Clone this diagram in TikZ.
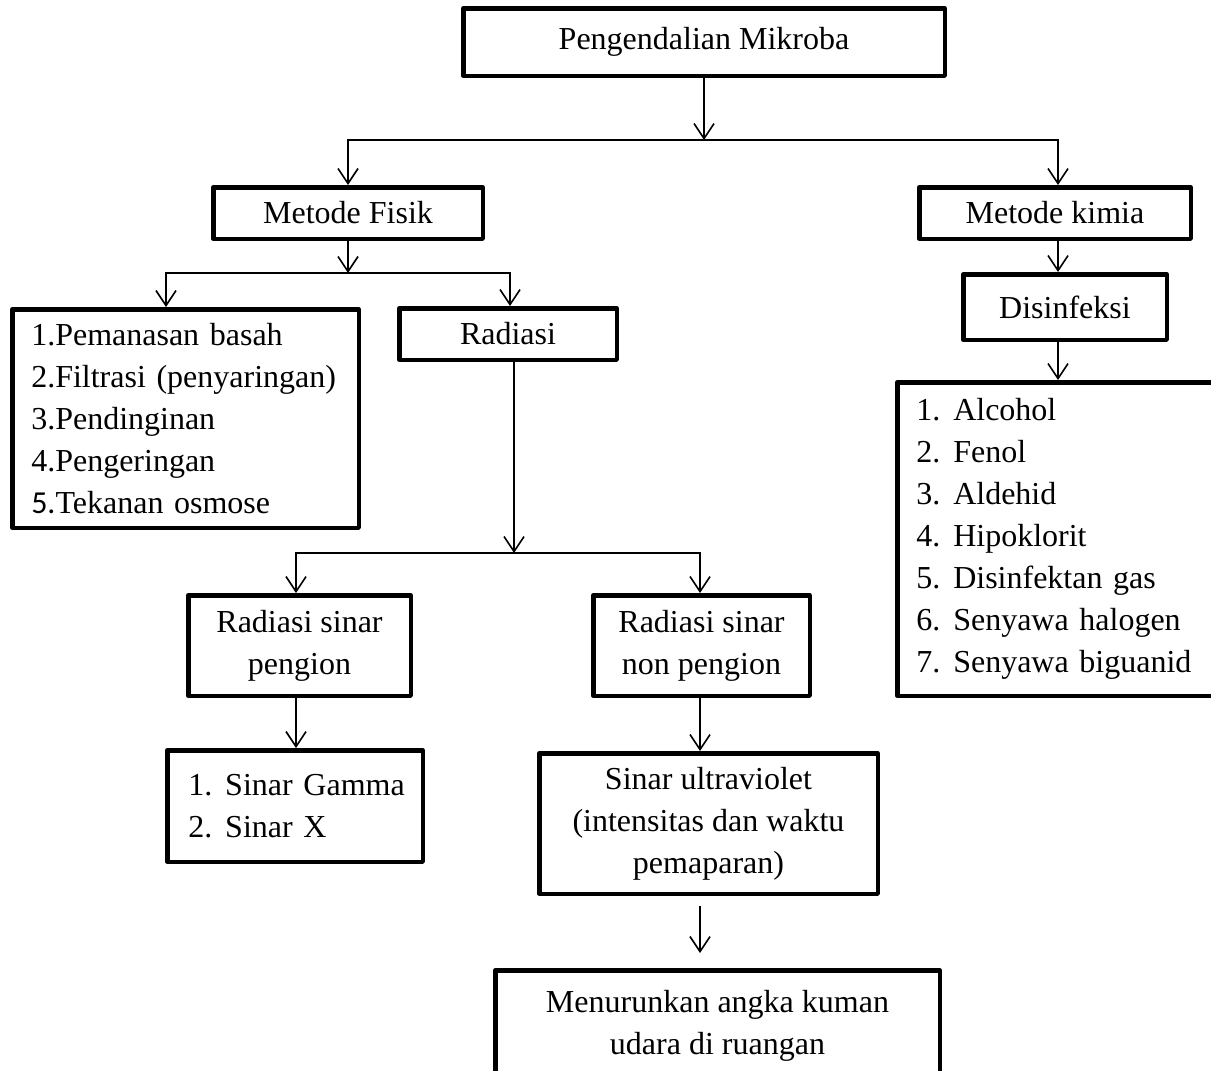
\documentclass[tikz,border=0pt]{standalone}
\usepackage{fontspec}
\setmainfont{Liberation Serif}
\setsansfont{Carlito}
\usepackage{tikz}
\usetikzlibrary{arrows.meta,calc,positioning}
\definecolor{hitam}{HTML}{000000}
\newcommand{\nomor}[1]{\makebox[37pt][l]{#1}}
\tikzset{
  kotak/.style={rectangle,draw=hitam,fill=white,line width=4.5pt,line join=round,inner sep=0pt,align=center,font=\fontsize{32}{42}\selectfont},
  daftar/.style={kotak,align=left,inner xsep=19pt},
  penghubung/.style={draw=hitam,line width=1.6pt},
  panah/.style={penghubung,-{Straight Barb[length=15pt,width=20pt]}},
}

\begin{document}
\begin{tikzpicture}[x=1pt,y=-1pt]
\useasboundingbox (0,0) rectangle (1211,1071);
\clip (0,0) rectangle (1211,1071);
% kotak-kotak
\node[kotak,minimum width=481.5pt,minimum height=67.5pt] (atas) at (704,42) {Pengendalian Mikroba};
\node[kotak,minimum width=269.5pt,minimum height=51.5pt] (fisik) at (348,213) {Metode Fisik};
\node[kotak,minimum width=271.5pt,minimum height=51.5pt] (kimia) at (1055,213) {Metode kimia};
\node[kotak,minimum width=203.5pt,minimum height=65.5pt] (disinfeksi) at (1065,307) {Disinfeksi};
\node[daftar,minimum width=346.5pt,minimum height=218.5pt,text width=308.5pt] (daftarfisik) at (185.5,418.5)
  {1.Pemanasan basah\\2.Filtrasi (penyaringan)\\3.Pendinginan\\4.Pengeringan\\{\sffamily 5.}Tekanan osmose};
\node[kotak,minimum width=217.5pt,minimum height=51.5pt] (radiasi) at (508,334) {Radiasi};
\node[daftar,minimum width=345.5pt,minimum height=313.5pt,text width=307.5pt] (daftarkimia) at (1070,539)
  {\nomor{1.}Alcohol\\\nomor{2.}Fenol\\\nomor{3.}Aldehid\\\nomor{4.}Hipoklorit\\\nomor{5.}Disinfektan gas\\\nomor{6.}Senyawa halogen\\\nomor{7.}Senyawa biguanid};
\node[kotak,minimum width=222.5pt,minimum height=100.5pt] (pengion) at (299.5,645.5) {Radiasi sinar\\pengion};
\node[kotak,minimum width=216.5pt,minimum height=100.5pt] (nonpengion) at (701.5,645.5) {Radiasi sinar\\non pengion};
\node[daftar,inner xsep=21pt,minimum width=255.5pt,minimum height=111.5pt,text width=213.5pt] (daftarsinar) at (295,806)
  {\nomor{1.}\mbox{Sinar Gamma}\\\nomor{2.}Sinar X};
\node[kotak,minimum width=338.5pt,minimum height=140.5pt] (uv) at (708.5,823.5) {Sinar ultraviolet\\(intensitas dan waktu\\pemaparan)};
\node[kotak,minimum width=444.5pt,minimum height=110.5pt] (hasil) at (717.5,1025.5) {Menurunkan angka kuman\\udara di ruangan};
% titik cabang
\coordinate (c1) at (704,140);
\coordinate (c1b) at (1058,140);
\coordinate (c2) at (348,273);
\coordinate (c2a) at (166,273);
\coordinate (c2b) at (510,273);
\coordinate (c3) at (514,553);
\coordinate (c3a) at (296,553);
\coordinate (c3b) at (700,553);
\coordinate (c4) at (700,905);
% panah
\draw[panah] (atas.south -| c1) -- (c1);
\draw[panah] (c1) -| (fisik.north);
\draw[panah] (c1) -| (kimia.north -| c1b);
\draw[panah] (kimia.south -| c1b) -- (disinfeksi.north -| c1b);
\draw[panah] (disinfeksi.south -| c1b) -- (daftarkimia.north -| c1b);
\draw[panah] (fisik.south) -- (c2);
\draw[panah] (c2) -| (daftarfisik.north -| c2a);
\draw[panah] (c2) -| (radiasi.north -| c2b);
\draw[panah] (radiasi.south -| c3) -- (c3);
\draw[panah] (c3) -| (pengion.north -| c3a);
\draw[panah] (c3) -| (nonpengion.north -| c3b);
\draw[panah] (pengion.south -| c3a) -- (daftarsinar.north -| c3a);
\draw[panah] (nonpengion.south -| c3b) -- (uv.north -| c3b);
\draw[panah,shorten <=10pt,shorten >=15pt] (uv.south -| c4) -- (hasil.north -| c4);
\end{tikzpicture}
\end{document}
